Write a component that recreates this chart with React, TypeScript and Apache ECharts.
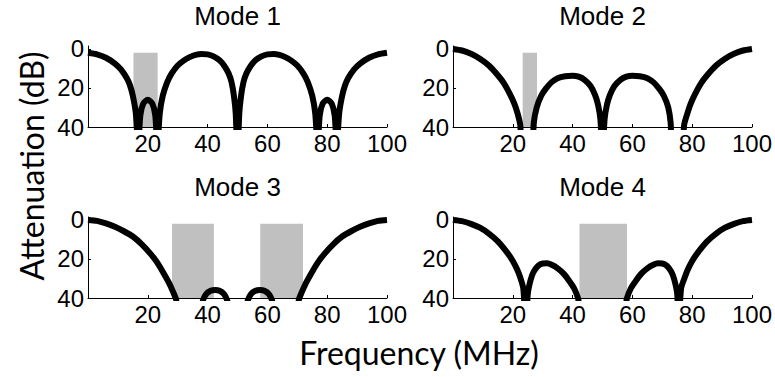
import React, { useEffect, useRef } from "react";
import * as echarts from "echarts";

// Frequency (MHz) and attenuation (dB), one pair list per mode
const mode1Freq = [0, 3, 6, 9, 11, 13, 14, 15, 16, 16.8, 17.5, 18.5, 20, 21.5, 22.5, 23.2, 24, 25, 26.5, 28, 30, 32, 34, 36, 38, 40, 42, 44, 45.5, 47, 48, 48.8, 49.4, 50, 50.6, 51.2, 52, 53, 54.5, 56, 58, 60, 62, 64, 66, 68, 70, 72, 73.5, 75, 76, 76.8, 77.5, 78.5, 80, 81.5, 82.5, 83.2, 84, 85, 86, 87, 89, 91, 94, 97, 100];
const mode1Att = [2, 2.8, 4.5, 7.5, 10.5, 15, 18.5, 24, 33, 50, 34, 28, 26, 28, 34, 50, 33, 24, 17, 12.5, 8.5, 6, 4.2, 3, 2.6, 2.8, 3.8, 5.8, 8.5, 12.5, 17, 24, 33, 55, 33, 24, 17, 12.5, 8.5, 5.8, 3.8, 2.8, 2.6, 3, 4.2, 6, 8.5, 12.5, 17, 24, 33, 50, 34, 28, 26, 28, 34, 50, 33, 24, 18.5, 15, 10.5, 7.5, 4.5, 2.8, 2];

const mode2Freq = [0, 3, 6, 9, 12, 15, 17, 19, 20.5, 21.5, 22.5, 23.2, 26.3, 27, 28, 29.5, 31, 33, 35, 37.5, 40, 42, 44, 46, 47.5, 48.5, 49.3, 50, 50.7, 51.5, 52.5, 54, 56, 58, 60, 62.5, 65, 67, 69, 70.5, 72, 72.8, 73.4, 76.6, 77.3, 78.5, 79.5, 81, 83, 85, 88, 91, 94, 97, 100];
const mode2Att = [0, 0.8, 2.5, 5, 8.5, 13.5, 17.5, 23, 28, 32.5, 39, 55, 55, 38, 30, 24, 20.5, 17, 15, 14, 13.7, 14.2, 15.8, 19, 23.5, 28.5, 36, 55, 36, 28.5, 23.5, 19, 15.8, 14.2, 13.7, 14, 15, 17, 20.5, 24, 30, 38, 55, 55, 39, 32.5, 28, 23, 17.5, 13.5, 8.5, 5, 2.5, 0.8, 0];

const mode3Freq = [0, 3, 6, 9, 12, 15, 18, 21, 23, 25, 27, 28.5, 29.5, 30.5, 33, 37.5, 38.5, 39.5, 41, 42.5, 44, 45.5, 46.5, 48, 50, 52, 53.5, 54.5, 56, 57.5, 59, 60.5, 61.5, 62.5, 67, 69.5, 70.5, 71.5, 73, 75, 77, 79, 82, 85, 88, 91, 94, 97, 100];
const mode3Att = [0, 0.5, 1.8, 3.5, 5.8, 8.5, 12.5, 17.5, 21.5, 26.5, 32, 37, 41, 55, 55, 48, 41, 38, 36.3, 35.9, 36.3, 38, 41, 50, 55, 50, 41, 38, 36.3, 35.9, 36.3, 38, 41, 48, 55, 55, 41, 37, 32, 26.5, 21.5, 17.5, 12.5, 8.5, 5.8, 3.5, 1.8, 0.5, 0];

const mode4Freq = [0, 3, 6, 9, 12, 15, 18, 20, 21.5, 22.5, 23.5, 24.4, 25, 26, 27, 28.5, 30, 31.5, 33, 35, 37, 39, 40.5, 41.8, 43, 50, 57, 58.2, 59.5, 61, 63, 65, 67, 68.5, 70, 71.5, 73, 74, 75, 75.4, 76.3, 77.5, 78.5, 80, 82, 85, 88, 91, 94, 97, 100];
const mode4Att = [0, 0.6, 2, 4, 7, 11, 16.5, 21, 25.5, 29.5, 35, 55, 38, 30.5, 26.5, 23.5, 22.3, 22.2, 23, 24.8, 27.5, 31.5, 35, 40, 48, 55, 48, 40, 35, 31.5, 27.5, 24.8, 23, 22.2, 22.3, 23.5, 26.5, 30.5, 38, 55, 35, 29.5, 25.5, 21, 16.5, 11, 7, 4, 2, 0.6, 0];

// Gray bands: [start MHz, end MHz]
const mode1Bands = [[15.2, 23.3]];
const mode2Bands = [[23.3, 28.1]];
const mode3Bands = [[28.1, 42.1], [57.6, 71.9]];
const mode4Bands = [[42.3, 58.2]];
const bandTop = 2;
const bandBottom = 40;

const titles = ["Mode 1", "Mode 2", "Mode 3", "Mode 4"];
const xTicks = [20, 40, 60, 80, 100];
const yTicks = [0, 20, 40];

const modes = [
  { f: mode1Freq, a: mode1Att, bands: mode1Bands },
  { f: mode2Freq, a: mode2Att, bands: mode2Bands },
  { f: mode3Freq, a: mode3Att, bands: mode3Bands },
  { f: mode4Freq, a: mode4Att, bands: mode4Bands },
];

const gridPos = [
  { left: 88, top: 46 },
  { left: 453, top: 46 },
  { left: 88, top: 217 },
  { left: 453, top: 217 },
];
const GW = 299;
const GH = 81;

const tickFont = "Liberation Sans, Arial, sans-serif";
const nameFont = "Lato, sans-serif";

export default function App() {
  const ref = useRef<HTMLDivElement>(null);
  useEffect(() => {
    if (!ref.current) return;
    const chart = echarts.init(ref.current, undefined, { renderer: "svg" });
    const grid = gridPos.map((g) => ({ left: g.left, top: g.top, width: GW, height: GH, containLabel: false }));
    const xAxis = gridPos.map((_, i) => ({
      type: "value",
      gridIndex: i,
      min: 0,
      max: 100,
      axisLine: { onZero: false, lineStyle: { color: "#000", width: 1 } },
      axisTick: { inside: true, length: 3, customValues: xTicks, lineStyle: { color: "#000" } },
      axisLabel: { customValues: xTicks, color: "#000", fontSize: 24, fontFamily: tickFont, margin: 4 },
      splitLine: { show: false },
    }));
    const yAxis = gridPos.map((_, i) => ({
      type: "value",
      gridIndex: i,
      min: -1.5,
      max: 40,
      inverse: true,
      axisLine: { show: true, onZero: false, lineStyle: { color: "#000", width: 1 } },
      axisTick: { show: true, inside: true, length: 3, customValues: yTicks, lineStyle: { color: "#000" } },
      axisLabel: { customValues: yTicks, color: "#000", fontSize: 24, fontFamily: tickFont, margin: 4 },
      splitLine: { show: false },
    }));
    const series: any[] = [];
    modes.forEach((m, i) => {
      series.push({
        type: "line",
        xAxisIndex: i,
        yAxisIndex: i,
        data: [],
        z: 1,
        silent: true,
        markArea: {
          silent: true,
          itemStyle: { color: "#c0c0c0", opacity: 1 },
          data: m.bands.map((b) => [
            { xAxis: b[0], yAxis: bandTop },
            { xAxis: b[1], yAxis: bandBottom },
          ]),
        },
      });
      series.push({
        type: "line",
        xAxisIndex: i,
        yAxisIndex: i,
        z: 3,
        data: m.f.map((f, k) => [f, m.a[k]]),
        showSymbol: false,
        symbol: "none",
        smooth: 0.25,
        clip: true,
        lineStyle: { color: "#000", width: 6, join: "round", cap: "butt" },
      });
    });
    const graphic: any[] = [];
    gridPos.forEach((g, i) => {
      graphic.push({
        type: "text",
        x: g.left + GW / 2,
        y: g.top - 30,
        style: {
          text: titles[i],
          fontSize: 26,
          fontFamily: tickFont,
          fill: "#000",
          align: "center",
          verticalAlign: "middle",
        },
      });
    });
    graphic.push({
      type: "text",
      x: 419,
      y: 352,
      style: { text: "Frequency (MHz)", fontSize: 32, fontFamily: nameFont, fill: "#000", align: "center", verticalAlign: "middle" },
    });
    graphic.push({
      type: "text",
      x: 31,
      y: 166,
      rotation: Math.PI / 2,
      style: { text: "Attenuation (dB)", fontSize: 32, fontFamily: nameFont, fill: "#000", align: "center", verticalAlign: "middle" },
    });
    chart.setOption({
      animation: false,
      backgroundColor: "#fff",
      grid,
      xAxis,
      yAxis,
      series,
      graphic,
    });
    return () => chart.dispose();
  }, []);
  return <div ref={ref} style={{ position: "fixed", left: 0, top: 0, width: 775, height: 377 }} />;
}
